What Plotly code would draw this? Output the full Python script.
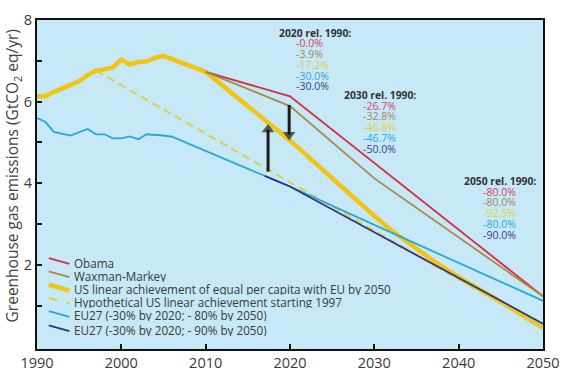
import numpy as np
import plotly.graph_objects as go

# ---------------- data ----------------
us_hist_years = [1990, 1991, 1992, 1993, 1994, 1995, 1996, 1997, 1998, 1999,
                 2000, 2001, 2002, 2003, 2004, 2005]
us_hist_vals = [6.13, 6.13, 6.24, 6.33, 6.40, 6.50, 6.65, 6.76, 6.79, 6.84,
                7.03, 6.91, 6.97, 6.99, 7.07, 7.12]

us_linear_years = [2010, 2020, 2030, 2032, 2034, 2037, 2040, 2044, 2050]
us_linear_vals = [6.73, 5.05, 3.20, 2.85, 2.55, 2.10, 1.70, 1.22, 0.46]

obama_years = [2010, 2020, 2050]
obama_vals = [6.73, 6.13, 1.23]

waxman_years = [2010, 2020, 2030, 2050]
waxman_vals = [6.73, 5.89, 4.12, 1.23]

hypo_years = [1997, 2050]
hypo_vals = [6.76, 0.46]

eu_hist_years = [1990, 1991, 1992, 1993, 1994, 1995, 1996, 1997, 1998, 1999,
                 2000, 2001, 2002, 2003, 2004, 2005, 2006]
eu_hist_vals = [5.60, 5.50, 5.26, 5.22, 5.17, 5.25, 5.33, 5.20, 5.20, 5.10,
                5.10, 5.15, 5.08, 5.20, 5.19, 5.17, 5.14]

eu80_years = [2006, 2020, 2030, 2050]
eu80_vals = [5.14, 3.92, 2.98, 1.12]

eu90_years = [2017, 2020, 2030, 2050]
eu90_vals = [4.18, 3.92, 2.80, 0.56]

rel_2020 = ["-0.0%", "-3.9%", "-17.2%", "-30.0%", "-30.0%"]
rel_2030 = ["-26.7%", "-32.8%", "-46.8%", "-46.7%", "-50.0%"]
rel_2050 = ["-80.0%", "-80.0%", "-92.5%", "-80.0%", "-90.0%"]

legend_names = ["Obama", "Waxman-Markey",
                "US linear achievement of equal per capita with EU by 2050",
                "Hypothetical US linear achievement starting 1997",
                "EU27 (-30% by 2020; - 80% by 2050)",
                "EU27 (-30% by 2020; - 90% by 2050)"]

x_ticks = [1990, 2000, 2010, 2020, 2030, 2040, 2050]
y_ticks = [1, 2, 3, 4, 5, 6, 7, 8]
y_tick_text = ["", "2", "", "4", "", "6", "", "8"]

# ---------------- style ----------------
RED = "#d22f40"
BROWN = "#a68a45"
YELLOW = "#f0c514"
DASH_Y = "#e2cb4c"
CYAN = "#24a9dd"
NAVY = "#2c3584"
TXT_RED = "#d4465a"
TXT_BROWN = "#a38a55"
TXT_YEL = "#e3cf3a"
TXT_CYAN = "#2fa9dc"
TXT_NAVY = "#3b4282"
BG = "#c7e8f7"
FONT = "Open Sans"

W, H = 570, 382
PX0, PX1, PY0, PY1 = 37, 552, 10, 358  # plot area in window pixels
L, R, T, B = PX0, W - PX1, PY0, H - PY1
PW, PH = PX1 - PX0, PY1 - PY0


def px(x):
    return (x - PX0) / PW


def py(y):
    return (PY1 - y) / PH


fig = go.Figure()

us_years_full = us_hist_years + us_linear_years
us_vals_full = us_hist_vals + us_linear_vals
eu_years_full = eu_hist_years + eu80_years[1:]
eu_vals_full = eu_hist_vals + eu80_vals[1:]

fig.add_trace(go.Scatter(x=us_years_full, y=us_vals_full, mode="lines",
                         line=dict(color=YELLOW, width=4.5), name=legend_names[2]))
fig.add_trace(go.Scatter(x=hypo_years, y=hypo_vals, mode="lines",
                         line=dict(color=DASH_Y, width=2, dash="8px,5px"), name=legend_names[3]))
fig.add_trace(go.Scatter(x=obama_years, y=obama_vals, mode="lines",
                         line=dict(color=RED, width=1.8), name=legend_names[0]))
fig.add_trace(go.Scatter(x=waxman_years, y=waxman_vals, mode="lines",
                         line=dict(color=BROWN, width=1.8), name=legend_names[1]))
fig.add_trace(go.Scatter(x=eu_years_full, y=eu_vals_full, mode="lines",
                         line=dict(color=CYAN, width=1.8), name=legend_names[4]))
fig.add_trace(go.Scatter(x=eu90_years, y=eu90_vals, mode="lines",
                         line=dict(color=NAVY, width=1.8), name=legend_names[5]))

# arrows derived from the data (shaft + triangular head)
yr_up, yr_dn = 2017.4, 2019.9
up_tail = float(np.interp(yr_up, hypo_years, hypo_vals)) - 0.05
up_head = float(np.interp(yr_up, us_linear_years, us_linear_vals)) - 0.17
dn_tail = float(np.interp(yr_dn, waxman_years, waxman_vals)) + 0.02
dn_head = float(np.interp(yr_dn, us_linear_years, us_linear_vals)) + 0.12
for xa, tail, head, sym in [(yr_up, up_tail, up_head, "triangle-up"),
                            (yr_dn, dn_tail, dn_head, "triangle-down")]:
    fig.add_trace(go.Scatter(x=[xa, xa], y=[tail, head], mode="lines+markers",
                             line=dict(color="#1b1b1b", width=3),
                             marker=dict(symbol=sym, size=[0, 11], color="#1b1b1b",
                                         line=dict(width=0)),
                             hoverinfo="skip", showlegend=False))

annotations = []
shapes = []

# relative-change blocks
txt_colors = [TXT_RED, TXT_BROWN, TXT_YEL, TXT_CYAN, TXT_NAVY]
blocks = [("2020 rel. 1990:", rel_2020, 282, 23, 300, 34),
          ("2030 rel. 1990:", rel_2030, 348, 89, 368, 100),
          ("2050 rel. 1990:", rel_2050, 471, 180, 490, 191)]
for head, vals, hx, hy, vx, vy in blocks:
    annotations.append(dict(x=px(hx), y=py(hy), xref="paper", yref="paper",
                            text="<b>" + head + "</b>", showarrow=False,
                            xanchor="left", yanchor="middle", height=11, borderpad=0,
                            font=dict(family=FONT, size=10.3, color="#333333")))
    for i, v in enumerate(vals):
        annotations.append(dict(x=px(vx), y=py(vy + i * 11.4), xref="paper", yref="paper",
                                text=v, showarrow=False, xanchor="left", yanchor="middle",
                                height=11, borderpad=0,
                                font=dict(family=FONT, size=10.5, color=txt_colors[i])))

# custom legend
leg_styles = [(RED, 1.8, "solid"), (BROWN, 1.8, "solid"), (YELLOW, 4.5, "solid"),
              (DASH_Y, 2, "dash"), (CYAN, 1.8, "solid"), (NAVY, 1.8, "solid")]
leg_y = [266, 280, 294, 308, 322, 337]
for (col, wd, ds), ty, name in zip(leg_styles, leg_y, legend_names):
    shapes.append(dict(type="line", xref="paper", yref="paper",
                       x0=px(49), y0=py(ty - 4), x1=px(70), y1=py(ty + 2),
                       line=dict(color=col, width=wd, dash=ds)))
    annotations.append(dict(x=px(74), y=py(ty), xref="paper", yref="paper",
                            text=name, showarrow=False, xanchor="left", yanchor="middle",
                            height=13, borderpad=0,
                            font=dict(family=FONT, size=11.7, color="#3a3a3a")))

# y-axis title
annotations.append(dict(x=px(13), y=py(175), xref="paper", yref="paper",
                        text="Greenhouse gas emissions (GtCO<sub>2</sub> eq/yr)",
                        textangle=-90, showarrow=False, xanchor="center", yanchor="middle",
                        borderpad=0,
                        font=dict(family=FONT, size=15.5, color="#444444")))

fig.update_layout(
    width=W, height=H,
    margin=dict(l=L, r=R, t=T, b=B, pad=0),
    paper_bgcolor="white", plot_bgcolor=BG,
    showlegend=False,
    annotations=annotations, shapes=shapes,
    font=dict(family=FONT, color="#3a3a3a"),
)
fig.update_xaxes(range=[1990, 2050], tickvals=x_ticks, ticks="inside", ticklen=5,
                 tickwidth=2, tickcolor="#111111", showgrid=False, zeroline=False,
                 showline=True, linecolor="#111111", linewidth=2, mirror=True,
                 tickfont=dict(family=FONT, size=14.5, color="#3a3a3a"))
fig.update_yaxes(range=[-0.06, 8], tickvals=y_ticks, ticktext=y_tick_text,
                 ticks="inside", ticklen=5, tickwidth=2, tickcolor="#111111",
                 showgrid=False, zeroline=False, showline=True, linecolor="#111111",
                 linewidth=2, mirror=True,
                 tickfont=dict(family=FONT, size=14.5, color="#3a3a3a"))

fig.write_html("out.html",
               config={"displayModeBar": False, "staticPlot": True},
               post_script="document.body.style.margin='0px';"
                           "document.body.style.overflow='hidden';")
